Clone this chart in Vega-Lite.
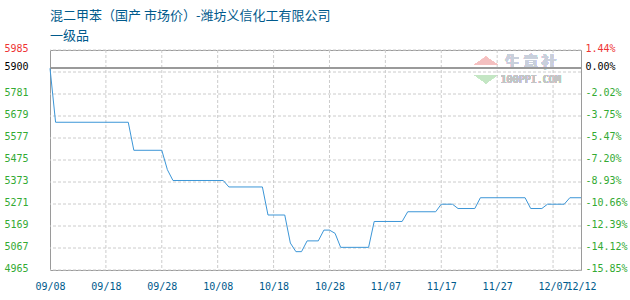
{
  "$schema": "https://vega.github.io/schema/vega-lite/v6.json",
  "width": 531,
  "height": 220,
  "autosize": {"type": "none"},
  "padding": {"left": 50, "top": 50, "right": 49, "bottom": 30},
  "background": "#ffffff",
  "title": {
    "text": ["混二甲苯（国产 市场价）-潍坊义信化工有限公司", "一级品"],
    "anchor": "start",
    "frame": "group",
    "offset": 1,
    "font": "Noto Sans CJK SC",
    "fontSize": 13,
    "fontWeight": "normal",
    "color": "#005a8c",
    "lineHeight": 20
  },
  "config": {
    "view": {"stroke": "#9a9a9a", "strokeWidth": 1},
    "axis": {
      "domainOpacity": 0,
      "tickSize": 0,
      "tickOpacity": 0,
      "title": null,
      "grid": false,
      "labelFont": "DejaVu Sans Mono",
      "labelFontSize": 10
    }
  },
  "datasets": {
    "prices": [
      {"date": "2022-09-08", "price": 5900},
      {"date": "2022-09-09", "price": 5650},
      {"date": "2022-09-22", "price": 5650},
      {"date": "2022-09-23", "price": 5520},
      {"date": "2022-09-28", "price": 5520},
      {"date": "2022-09-29", "price": 5430},
      {"date": "2022-09-30", "price": 5380},
      {"date": "2022-10-09", "price": 5380},
      {"date": "2022-10-10", "price": 5350},
      {"date": "2022-10-16", "price": 5350},
      {"date": "2022-10-17", "price": 5220},
      {"date": "2022-10-20", "price": 5220},
      {"date": "2022-10-21", "price": 5090},
      {"date": "2022-10-22", "price": 5050},
      {"date": "2022-10-23", "price": 5050},
      {"date": "2022-10-24", "price": 5100},
      {"date": "2022-10-26", "price": 5100},
      {"date": "2022-10-27", "price": 5150},
      {"date": "2022-10-28", "price": 5150},
      {"date": "2022-10-29", "price": 5135},
      {"date": "2022-10-30", "price": 5070},
      {"date": "2022-11-04", "price": 5070},
      {"date": "2022-11-05", "price": 5190},
      {"date": "2022-11-10", "price": 5190},
      {"date": "2022-11-11", "price": 5235},
      {"date": "2022-11-16", "price": 5235},
      {"date": "2022-11-17", "price": 5270},
      {"date": "2022-11-19", "price": 5270},
      {"date": "2022-11-20", "price": 5250},
      {"date": "2022-11-23", "price": 5250},
      {"date": "2022-11-24", "price": 5300},
      {"date": "2022-12-02", "price": 5300},
      {"date": "2022-12-03", "price": 5250},
      {"date": "2022-12-05", "price": 5250},
      {"date": "2022-12-06", "price": 5270},
      {"date": "2022-12-09", "price": 5270},
      {"date": "2022-12-10", "price": 5300},
      {"date": "2022-12-12", "price": 5300}
    ],
    "priceTicks": [
      {"v": 4965}, {"v": 5067}, {"v": 5169}, {"v": 5271}, {"v": 5373},
      {"v": 5475}, {"v": 5577}, {"v": 5679}, {"v": 5781}, {"v": 5883}, {"v": 5985}
    ],
    "dateTicks": [
      {"d": "2022-09-18"}, {"d": "2022-09-28"}, {"d": "2022-10-08"},
      {"d": "2022-10-18"}, {"d": "2022-10-28"}, {"d": "2022-11-07"},
      {"d": "2022-11-17"}, {"d": "2022-11-27"}, {"d": "2022-12-07"}
    ]
  },
  "data": {"name": "prices"},
  "resolve": {"axis": {"y": "independent"}},
  "layer": [
    {
      "mark": {"type": "point", "shape": "M-1,0.35L1,0.35L0,-0.35Z", "filled": true, "color": "#f4c0c0", "opacity": 1, "size": 529},
      "encoding": {
        "x": {"datum": {"year": 2022, "month": 11, "date": 25, "utc": true}, "type": "temporal"},
        "y": {"datum": 5935, "type": "quantitative", "axis": null}
      }
    },
    {
      "mark": {"type": "point", "shape": "M-1,-0.35L1,-0.35L0,0.35Z", "filled": true, "color": "#c4e6c4", "opacity": 1, "size": 529},
      "encoding": {
        "x": {"datum": {"year": 2022, "month": 11, "date": 25, "utc": true}, "type": "temporal"},
        "y": {"datum": 5850, "type": "quantitative", "axis": null}
      }
    },
    {
      "mark": {"type": "text", "text": "生 意 社", "font": "Noto Sans CJK SC", "fontSize": 15, "fontWeight": "bold", "color": "#c9d0dc", "align": "center", "baseline": "middle"},
      "encoding": {
        "x": {"datum": {"year": 2022, "month": 12, "date": 3, "utc": true}, "type": "temporal"},
        "y": {"datum": 5931, "type": "quantitative", "axis": null}
      }
    },
    {
      "mark": {"type": "text", "text": "100PPI.COM", "font": "DejaVu Sans Mono", "fontSize": 10, "color": "#c4c4c4", "align": "center", "baseline": "middle"},
      "encoding": {
        "x": {"datum": {"year": 2022, "month": 12, "date": 3, "utc": true}, "type": "temporal"},
        "y": {"datum": 5847, "type": "quantitative", "axis": null}
      }
    },
    {
      "data": {"name": "priceTicks"},
      "mark": {"type": "rule", "color": "#cccccc", "strokeWidth": 1, "strokeDash": [3, 2]},
      "encoding": {
        "y": {"field": "v", "type": "quantitative", "axis": null}
      }
    },
    {
      "data": {"name": "dateTicks"},
      "mark": {"type": "rule", "color": "#cccccc", "strokeWidth": 1, "strokeDash": [3, 2]},
      "encoding": {
        "x": {"field": "d", "type": "temporal"}
      }
    },
    {
      "mark": {"type": "rule", "color": "#9a9a9a", "strokeWidth": 1},
      "encoding": {
        "y": {
          "datum": 5900,
          "type": "quantitative",
          "axis": {
            "orient": "right",
            "values": [4965, 5067, 5169, 5271, 5373, 5475, 5577, 5679, 5781, 5900, 5985],
            "labelExpr": "datum.value == 5900 ? '0.00%' : ((datum.value < 5900 ? '-' : '') + format(abs(datum.value - 5900) / 5900 * 100, '.2f') + '%')",
            "labelPadding": 4,
            "labelOffset": -1.5,
            "labelOverlap": false,
            "labelColor": {
              "condition": [
                {"test": "datum.value == 5985", "value": "#ee3333"},
                {"test": "datum.value == 5900", "value": "#000000"}
              ],
              "value": "#33aa33"
            }
          }
        }
      }
    },
    {
      "mark": {"type": "line", "color": "#3c96d7", "strokeWidth": 1},
      "encoding": {
        "x": {
          "field": "date",
          "type": "temporal",
          "scale": {
            "type": "utc",
            "nice": false,
            "domain": [
              {"year": 2022, "month": 9, "date": 8, "utc": true},
              {"year": 2022, "month": 12, "date": 12, "utc": true}
            ]
          },
          "axis": {
            "title": null,
            "grid": false,
            "values": [
              {"year": 2022, "month": 9, "date": 8, "utc": true},
              {"year": 2022, "month": 9, "date": 18, "utc": true},
              {"year": 2022, "month": 9, "date": 28, "utc": true},
              {"year": 2022, "month": 10, "date": 8, "utc": true},
              {"year": 2022, "month": 10, "date": 18, "utc": true},
              {"year": 2022, "month": 10, "date": 28, "utc": true},
              {"year": 2022, "month": 11, "date": 7, "utc": true},
              {"year": 2022, "month": 11, "date": 17, "utc": true},
              {"year": 2022, "month": 11, "date": 27, "utc": true},
              {"year": 2022, "month": 12, "date": 7, "utc": true},
              {"year": 2022, "month": 12, "date": 12, "utc": true}
            ],
            "labelExpr": "utcFormat(datum.value, '%m/%d')",
            "labelColor": "#005a8c",
            "labelPadding": 11,
            "labelOverlap": false,
            "labelFlush": false,
            "labelBound": false
          }
        },
        "y": {
          "field": "price",
          "type": "quantitative",
          "scale": {"domain": [4965, 5985], "nice": false, "zero": false},
          "axis": {
            "orient": "left",
            "values": [4965, 5067, 5169, 5271, 5373, 5475, 5577, 5679, 5781, 5900, 5985],
            "format": "d",
            "labelPadding": 22,
            "labelOffset": -1.5,
            "labelOverlap": false,
            "labelColor": {
              "condition": [
                {"test": "datum.value == 5985", "value": "#ee3333"},
                {"test": "datum.value == 5900", "value": "#000000"}
              ],
              "value": "#33aa33"
            }
          }
        }
      }
    }
  ]
}
